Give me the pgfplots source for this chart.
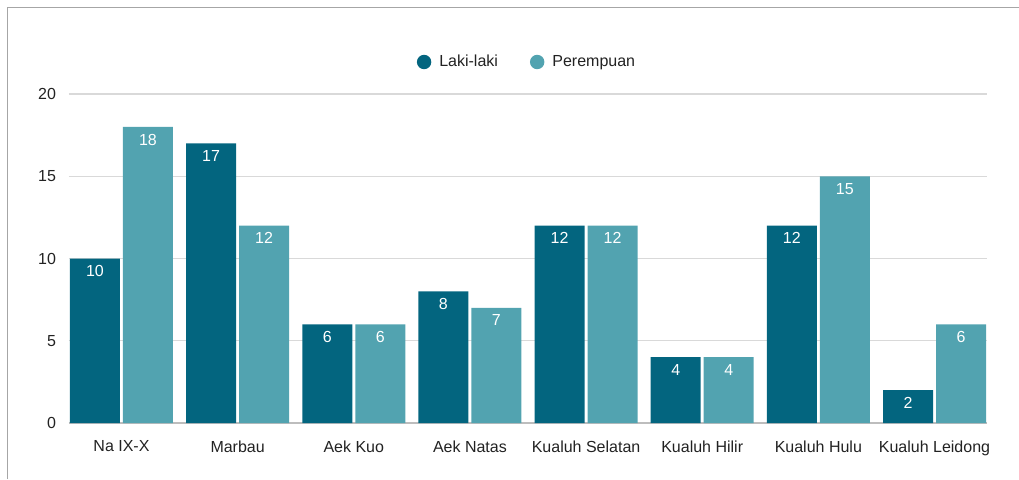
\documentclass[border=0pt]{standalone}
\usepackage{pgfplots}
\pgfplotsset{compat=1.18}
\usepackage{fontspec}
\setmainfont{Liberation Sans}
\definecolor{laki}{HTML}{03657F}
\definecolor{perem}{HTML}{52A3B0}
\definecolor{gridc}{HTML}{D9D9D9}
\definecolor{basec}{HTML}{BDBDBD}
\definecolor{txt}{HTML}{222222}
\begin{document}
\begin{tikzpicture}
\useasboundingbox (0,0) rectangle (509.5pt,239.5pt);
\draw[color=black!35, line width=0.75pt] (3.75pt,0) -- (3.75pt,235.75pt) -- (509.5pt,235.75pt);
\begin{axis}[
  at={(34.5pt,28pt)}, anchor=south west,
  scale only axis, width=459pt, height=164.5pt,
  ybar=1.5pt, bar width=25pt,
  xmin=-0.452, xmax=7.452,
  ymin=0, ymax=20,
  ytick={0,5,10,15,20},
  xtick=data,
  xticklabels={Na IX-X,Marbau,Aek Kuo,Aek Natas,Kualuh Selatan,Kualuh Hilir,Kualuh Hulu,Kualuh Leidong},
  axis line style={draw=none},
  tick style={draw=none},
  ymajorgrids,
  grid style={color=gridc, line width=0.6pt},
  extra y ticks={0}, extra y tick labels={},
  extra y tick style={grid style={color=basec, line width=0.7pt}},
  /pgf/number format/assume math mode=true,
  tick label style={font=\fontsize{8}{10}\selectfont, color=txt},
  yticklabel style={xshift=-3pt},
  xticklabel style={yshift=-1pt},
  nodes near coords,
  every node near coord/.append style={font=\fontsize{8}{10}\selectfont, color=white, anchor=north},
  legend columns=2,
  legend style={draw=none, at={(0.5,1)}, anchor=center, yshift=16pt,
    font=\fontsize{8}{10}\selectfont, text=txt,
    /tikz/every odd column/.append style={column sep=2pt},
    /tikz/every even column/.append style={column sep=14pt}},
  legend image code/.code={\fill[#1] (3.5pt,0pt) circle (3.6pt);},
]
\addplot[fill=laki, draw=none] coordinates {(0,10) (1,17) (2,6) (3,8) (4,12) (5,4) (6,12) (7,2)};
\addplot[fill=perem, draw=none] coordinates {(0,18) (1,12) (2,6) (3,7) (4,12) (5,4) (6,15) (7,6)};
\legend{Laki-laki,Perempuan}
\end{axis}
\end{tikzpicture}
\end{document}
